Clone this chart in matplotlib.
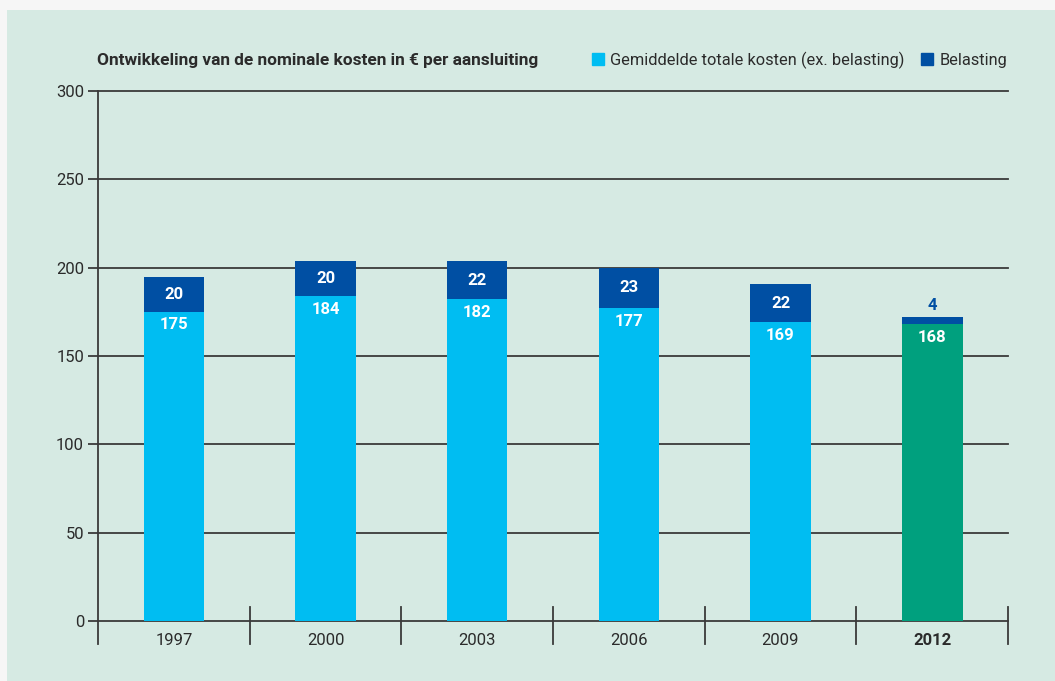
import matplotlib.pyplot as plt
from matplotlib.patches import Patch, Rectangle

plt.rcParams['font.family'] = ['Roboto', 'DejaVu Sans']

years = ["1997", "2000", "2003", "2006", "2009", "2012"]
kosten = [175, 184, 182, 177, 169, 168]
belasting = [20, 20, 22, 23, 22, 4]

light_blue = "#00bdf2"
dark_blue = "#004fa3"
green = "#00a07e"
bg = "#d6eae3"
txt = "#2b2b2b"

fig = plt.figure(figsize=(10.55, 6.81), dpi=100, facecolor="#f6f6f6")
fig.patches.append(Rectangle((7 / 1055, 0), 1, 1 - 10 / 681, transform=fig.transFigure,
                             facecolor=bg, edgecolor="none", zorder=-1))

ax = fig.add_axes([98 / 1055, 1 - 644 / 681, 910 / 1055, (644 - 91) / 681])
ax.set_facecolor("none")
ax.set_zorder(2)

x = [i + 0.5 for i in range(len(years))]
base_colors = [light_blue] * (len(years) - 1) + [green]
ax.bar(x, kosten, width=0.4, color=base_colors, zorder=3)
ax.bar(x, belasting, width=0.4, bottom=kosten, color=dark_blue, zorder=3)

for xi, k, b in zip(x, kosten, belasting):
    ax.annotate(str(k), (xi, k), xytext=(0, -4), textcoords="offset points",
                ha="center", va="top", color="white", fontsize=12, fontweight="bold", zorder=4)
    if b >= 10:
        ax.text(xi, k + b / 2, str(b), ha="center", va="center", color="white",
                fontsize=12, fontweight="bold", zorder=4)
    else:
        ax.annotate(str(b), (xi, k + b), xytext=(0, 3), textcoords="offset points",
                    ha="center", va="bottom", color=dark_blue, fontsize=12,
                    fontweight="bold", zorder=4)

# gridlines and zero line
for v in range(0, 301, 50):
    ax.plot([0, len(years)], [v, v], color="#3a3a3a", lw=1.3, zorder=2, clip_on=False)

# category separators
for i in range(1, len(years) + 1):
    ax.plot([i, i], [-13, 8], color="#3a3a3a", lw=1.3, zorder=2, clip_on=False)

ax.set_xlim(0, len(years))
ax.set_ylim(-13, 300)
ax.set_yticks(range(0, 301, 50))
ax.tick_params(axis="y", length=7, width=1.3, color="#3a3a3a", labelsize=12,
               labelcolor=txt, pad=3)
ax.set_xticks([])
for s in ["top", "right", "bottom"]:
    ax.spines[s].set_visible(False)
ax.spines["left"].set_color("#3a3a3a")
ax.spines["left"].set_linewidth(1.3)

for xi, y in zip(x, years):
    ax.text(xi, -7, y, ha="center", va="top", fontsize=12, color=txt,
            fontweight="bold" if y == "2012" else "normal")

fig.text(97 / 1055, 1 - 60 / 681, "Ontwikkeling van de nominale kosten in € per aansluiting",
         ha="left", va="center", fontsize=12.4, fontweight="bold", color=txt)

handles = [Patch(color=light_blue, label="Gemiddelde totale kosten (ex. belasting)"),
           Patch(color=dark_blue, label="Belasting")]
fig.legend(handles=handles, loc="center right", bbox_to_anchor=(1016 / 1055, 1 - 60 / 681),
           ncol=2, frameon=False, fontsize=11.8, handlelength=0.75, handleheight=0.75,
           handletextpad=0.4, columnspacing=1.0, borderpad=0, labelcolor=txt)

fig.savefig("out.png", dpi=100, facecolor=fig.get_facecolor())
